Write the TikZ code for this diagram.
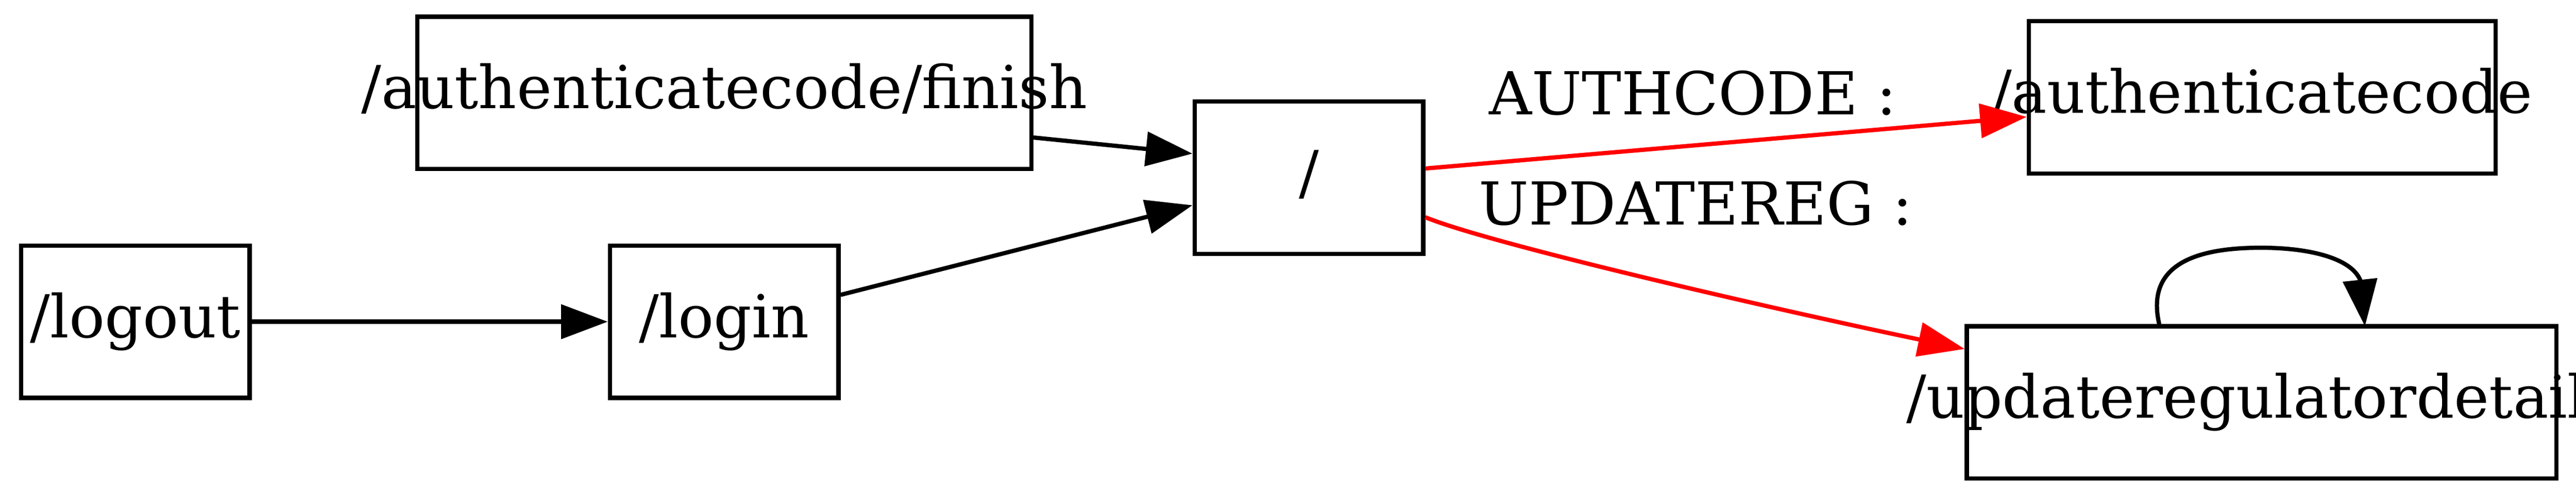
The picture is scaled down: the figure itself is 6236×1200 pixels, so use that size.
\documentclass[tikz,border=0pt]{standalone}
\usepackage{fontspec}
\setmainfont{DejaVu Serif}
\usetikzlibrary{arrows.meta}
\tikzset{
  box/.style={draw, line width=1pt, inner sep=0pt, minimum height=36pt,
    minimum width=#1, text height=10pt, text depth=2.6pt, font=\fontsize{14pt}{16pt}\selectfont},
  edge/.style={line width=1pt, -{Triangle[length=11pt,width=8pt]}},
  redge/.style={edge, draw=red},
  lab/.style={inner sep=0pt, font=\fontsize{14pt}{16pt}\selectfont}
}
\begin{document}
\begin{tikzpicture}[x=0.09756pt,y=-0.09756pt]
\useasboundingbox (0,0) rectangle (6236,1200);
\node[box=54pt] (logout) at (327.5,779) {\makebox[0pt]{/logout}};
\node[box=54pt] (login) at (1753,779) {\makebox[0pt]{/login}};
\node[box=145pt] (fin) at (1753.5,225) {\makebox[0pt]{/authenticatecode/finish}};
\node[box=54pt] (root) at (3168.5,430.5) {\makebox[0pt]{/}};
\node[box=110.3pt] (auth) at (5476.5,235.5) {\makebox[0pt]{/authenticatecode}};
\node[box=139.3pt] (upd) at (5475,974.5) {\makebox[0pt]{/updateregulatordetail\phantom{s}}};

\node[lab, anchor=base] (l1) at (4098,278) {AUTHCODE :};
\node[lab, anchor=base] (l2) at (4105,545) {UPDATEREG :};

\draw[edge] (logout.east) -- (login.west);
\draw[edge] ([shift={(0,108)}]fin.east) -- ([shift={(0,-58.5)}]root.west);
\draw[edge] ([shift={(0,-65)}]login.east) -- ([shift={(0,66.5)}]root.west);
\draw[redge] ([shift={(0,-22.5)}]root.east) -- ([shift={(0,47.5)}]auth.west);
\draw[redge] ([shift={(0,95.5)}]root.east) .. controls +(155,64) and +(-456,-95) .. ([shift={(0,-129.5)}]upd.west);
\draw[edge] ([shift={(-248,0)}]upd.north) .. controls +(-30,-130) and +(-183,0) .. ([shift={(-2,-185)}]upd.north)
  .. controls +(117,0) and +(-23,-52) .. ([shift={(238,-108)}]upd.north) -- ([shift={(250,5)}]upd.north);
\end{tikzpicture}
\end{document}
